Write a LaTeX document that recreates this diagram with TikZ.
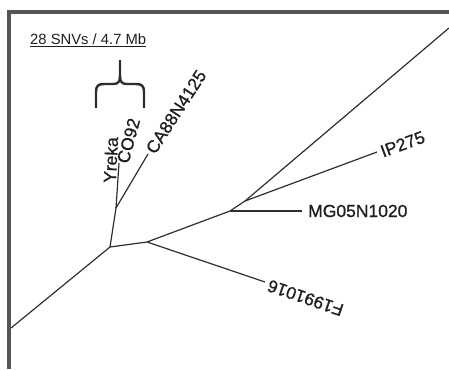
\documentclass[tikz,border=0pt]{standalone}
\usepackage{fontspec}
\setmainfont{Liberation Sans}
\newfontfamily\lblfont[FakeBold=0.9]{Liberation Sans}
\definecolor{treegray}{HTML}{2E2E2E}
\definecolor{framegray}{HTML}{555555}
\definecolor{txtgray}{HTML}{1E1E1E}
\begin{document}
\begin{tikzpicture}[x=1pt,y=-1pt,
  branch/.style={draw=treegray,line width=1.2pt},
  lbl/.style={inner sep=0pt,font=\lblfont\fontsize{17.5}{20}\selectfont,text=txtgray},
  scalelbl/.style={inner sep=0pt,font=\fontsize{14.8}{17}\selectfont,text=txtgray}]
\useasboundingbox (0,0) rectangle (449,369);
% frame
\draw[framegray,line width=3.5pt] (9,369) -- (9,12) -- (449,12);
% scale label and brace
\node[scalelbl,anchor=base west] (scale) at (30,45) {\underline{28 SNVs / 4.7 Mb}};
\draw[treegray,line width=2.4pt,line join=round]
  (96,108) -- (96,92) .. controls (96,86) and (98,84) .. (104,84) -- (113,84)
  .. controls (118,84) and (120,82) .. (120,76) -- (120,60);
\draw[treegray,line width=2.4pt,line join=round]
  (144,108) -- (144,92) .. controls (144,86) and (142,84) .. (136,84) -- (127,84)
  .. controls (122,84) and (120,82) .. (120,76);
% tree junctions
\coordinate (L) at (11,328);
\coordinate (A) at (110,247);
\coordinate (B) at (147,242);
\coordinate (C) at (230,211);
\coordinate (D) at (245,201);
\coordinate (E) at (116,208);
\coordinate (R) at (449,28);
\coordinate (ip) at (377,152);
\coordinate (mg) at (302,211);
\coordinate (f) at (265,282);
\coordinate (co) at (119,163);
\coordinate (ca) at (148,154);
% branches
\draw[branch] (L) -- (A) -- (B) -- (C) -- (D) -- (R);
\draw[branch] (D) -- (ip);
\draw[branch] (C) -- (mg);
\draw[branch] (B) -- (f);
\draw[branch] (A) -- (E) -- (co);
\draw[branch] (E) -- (ca);
% labels
\node[lbl,rotate=87,anchor=west] (yreka) at (109.5,183) {Yreka};
\node[lbl,rotate=75,anchor=west] (co92) at (122.5,163) {CO92};
\node[lbl,rotate=57,anchor=west] (ca88) at (150,152) {CA88N4125};
\node[lbl,rotate=20,anchor=west] (ip275) at (381,152) {IP275};
\node[lbl,anchor=west] (mg05) at (308,211) {MG05N1020};
\node[lbl,rotate=161,anchor=east] (f199) at (268,285) {F1991016};
\end{tikzpicture}
\end{document}
